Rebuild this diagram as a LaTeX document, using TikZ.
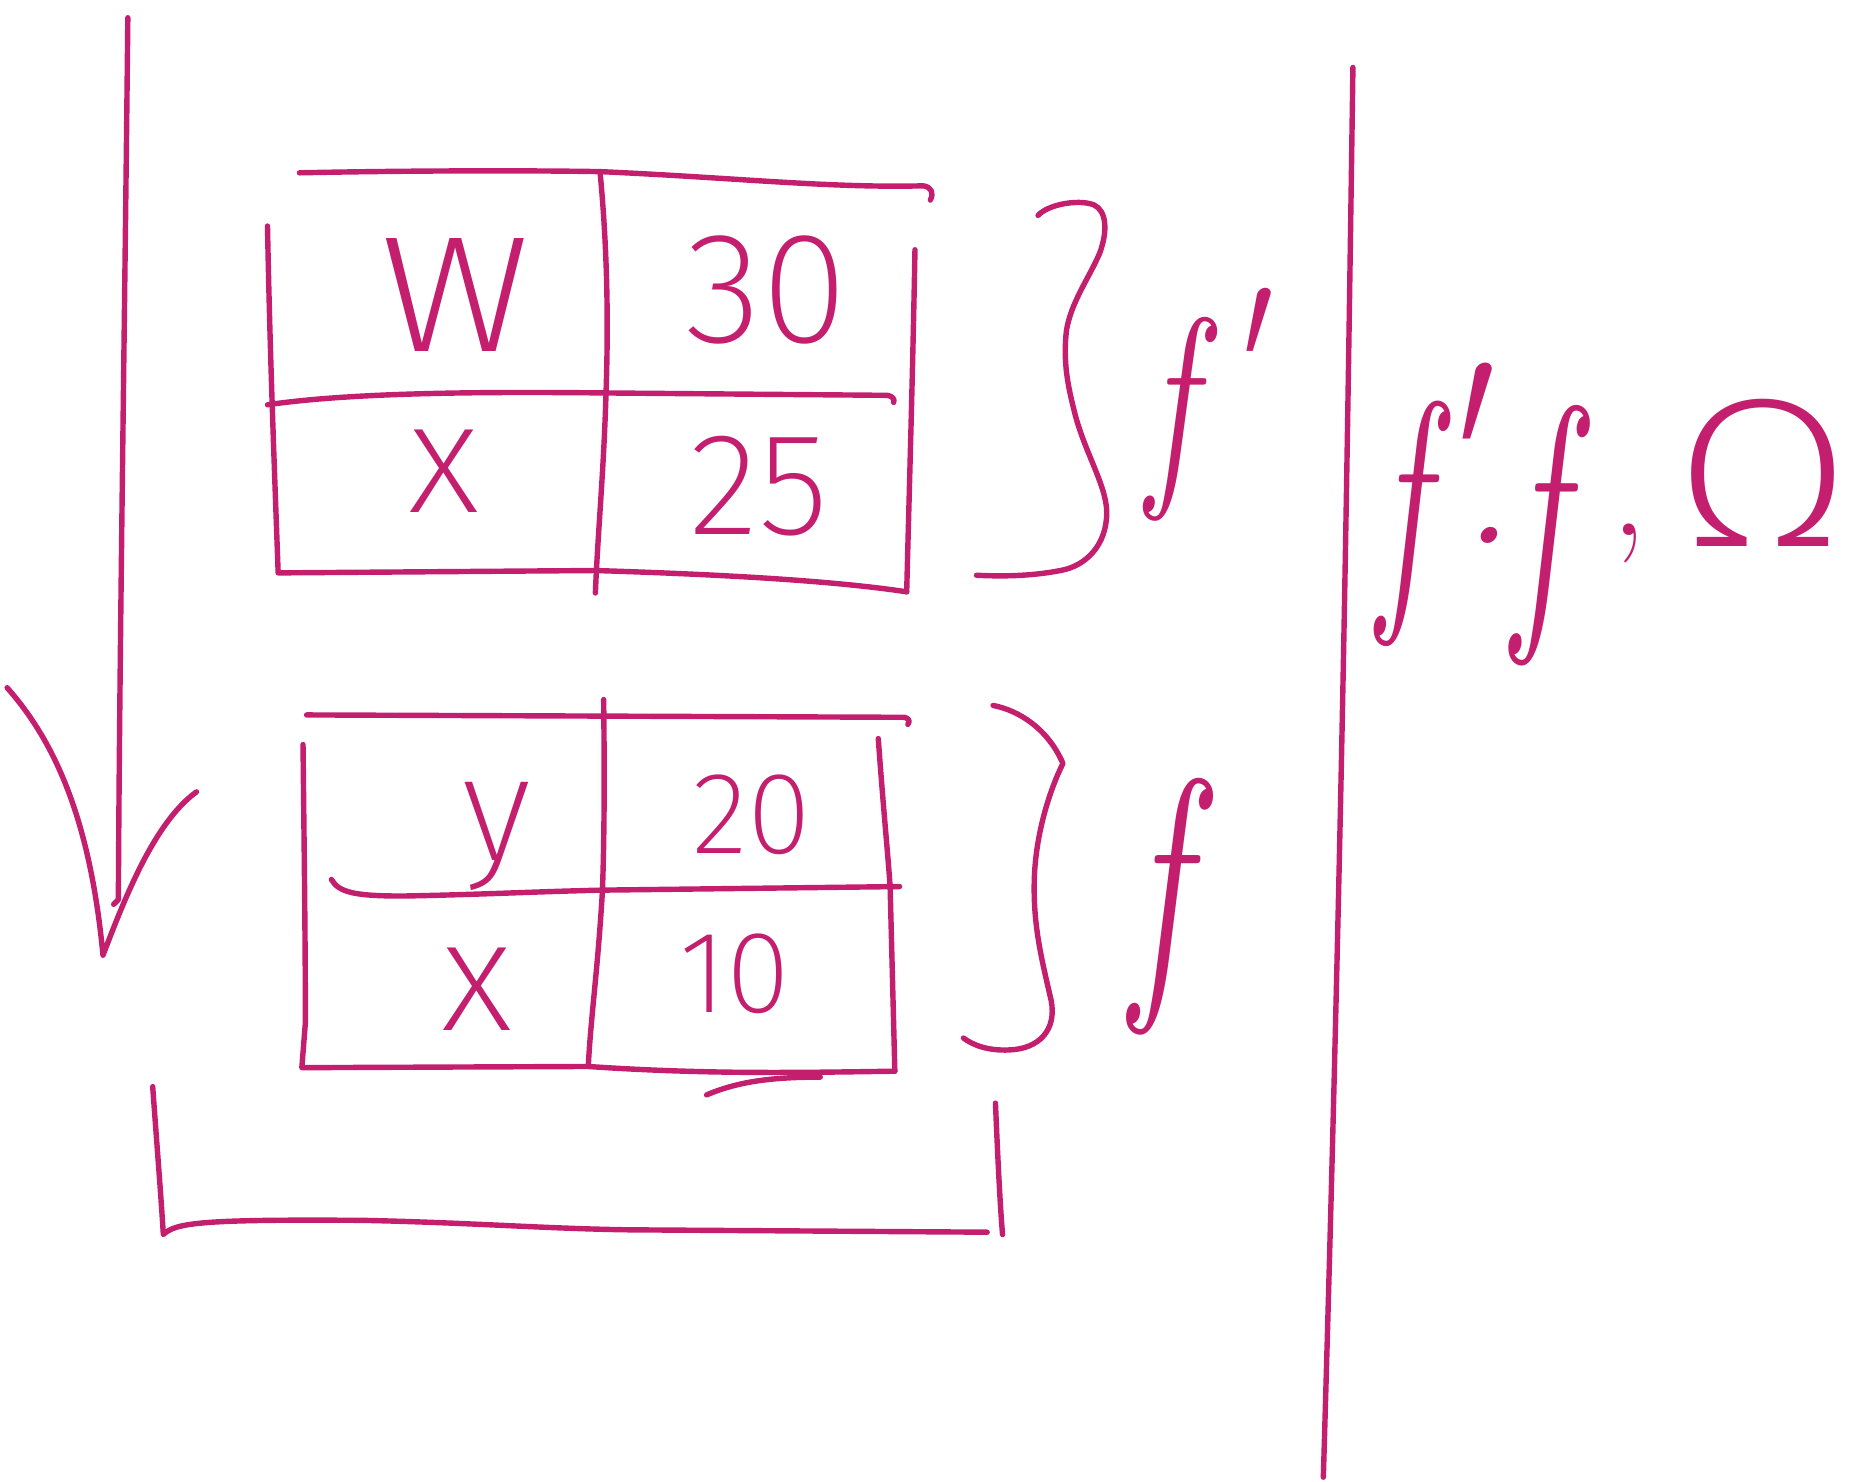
\documentclass[tikz,border=0pt]{standalone}
\usepackage{graphicx}
\usepackage{fontspec}
\newfontfamily\handfont{Fira Sans ExtraLight}
\definecolor{ink}{RGB}{196,30,110}
\newcommand\penpt[1]{\fontsize{#1}{#1}\selectfont}
% a slender italic f
\newcommand\slimf[1]{\scalebox{#1}[1]{f}}
\begin{document}
\begin{tikzpicture}[x=0.01cm,y=-0.01cm,
  pen/.style={draw=ink,line width=1.3pt,line cap=round,line join=round},
  cell/.style={text=ink,inner sep=0pt},
  sym/.style={text=ink,inner sep=0pt,anchor=base west}]
\useasboundingbox (0,0) rectangle (1568,1252);

% long downward stroke with its open arrow head
\draw[pen] (108,15) .. controls (105,300) and (101,550) .. (100,760) -- (96,764);
\draw[pen] (6,581) .. controls (45,625) and (76,690) .. (87,807)
  .. controls (105,760) and (130,695) .. (166,669);

% upper table
\draw[pen] (253,146) .. controls (350,144) and (450,144) .. (507,145)
  .. controls (620,150) and (700,159) .. (780,157) .. controls (787,158) and (789,163) .. (786,169);
\draw[pen] (226,191) .. controls (228,300) and (232,400) .. (235,484)
  -- (503,482) .. controls (600,485) and (700,490) .. (766,500);
\draw[pen] (773,211) .. controls (771,320) and (768,420) .. (766,500);
\draw[pen] (507,146) .. controls (515,230) and (513,300) .. (512,332)
  .. controls (510,400) and (505,450) .. (503,501);
\draw[pen] (226,342) .. controls (300,331) and (420,331) .. (513,332)
  -- (750,334) .. controls (754,335) and (756,337) .. (755,340);

\node[cell,font=\handfont\penpt{52}] (c11) at (385,249) {w};
\node[cell,font=\handfont\penpt{38}] (c12) at (648,245) {30};
\node[cell,font=\handfont\penpt{38}] (c21) at (375,398) {x};
\node[cell,font=\handfont\penpt{35}] (c22) at (641,411) {25};

% lower table
\draw[pen] (259,604) -- (764,606) .. controls (768,607) and (769,609) .. (767,612);
\draw[pen] (510,591) .. controls (511,680) and (510,720) .. (509,752)
  .. controls (505,820) and (499,860) .. (497,901);
\draw[pen] (256,629) .. controls (257,720) and (258,800) .. (258,864) -- (255,902)
  -- (497,901) .. controls (600,908) and (680,906) .. (756,905);
\draw[pen] (742,624) .. controls (746,680) and (750,720) .. (752,749) -- (756,905);
\draw[pen] (280,743) .. controls (286,754) and (300,757) .. (340,757)
  .. controls (400,756) and (460,753) .. (510,752) -- (760,749);
\draw[pen] (597,925) .. controls (625,913) and (655,910) .. (693,910);

\node[cell,font=\handfont\penpt{36}] (d11) at (420,707) {y};
\node[cell,font=\handfont\penpt{28}] (d12) at (635,688) {20};
\node[cell,font=\handfont\penpt{38}] (d21) at (403,836) {x};
\node[cell,font=\handfont\penpt{28}] (d22) at (621,823) {10};

% braces with their labels
\draw[pen] (877,182) .. controls (885,173) and (910,168) .. (924,173)
  .. controls (935,178) and (936,195) .. (929,214)
  .. controls (920,235) and (905,255) .. (901,279)
  .. controls (898,305) and (902,325) .. (907,345)
  .. controls (915,380) and (935,410) .. (935,433)
  .. controls (935,460) and (918,478) .. (896,482)
  .. controls (870,487) and (845,487) .. (825,486);
\node[sym,font=\itshape\penpt{54}] (lblA) at (969,402)
  {\slimf{0.7}\kern-0.01em\raisebox{0.13em}{\textquotesingle}};

\draw[pen] (839,596) .. controls (860,600) and (885,615) .. (898,645)
  .. controls (888,665) and (876,700) .. (874,738)
  .. controls (872,780) and (880,810) .. (888,845)
  .. controls (893,870) and (878,886) .. (853,887)
  .. controls (835,888) and (822,883) .. (814,877);
\node[sym,font=\itshape\penpt{68}] (lblB) at (955,826) {\slimf{0.65}};

% bracket under the tables
\draw[pen] (129,918) .. controls (132,960) and (136,1010) .. (138,1043)
  .. controls (148,1033) and (170,1030) .. (307,1031)
  .. controls (400,1033) and (460,1038) .. (532,1039) -- (834,1041);
\draw[pen] (841,932) .. controls (843,980) and (845,1020) .. (847,1043);

% dividing line on the right
\draw[pen] (1143,57) .. controls (1138,400) and (1134,700) .. (1118,1248);

% product on the right
\node[sym,font=\itshape\penpt{65}] (pa) at (1164,500)
  {\slimf{0.6}\kern-0.11em\raisebox{0.14em}{\textquotesingle}\kern-0.06em\raisebox{0.18em}{\penpt{40}.}};
\node[sym,font=\itshape\penpt{69}] (pc) at (1278,513) {\slimf{0.6}};
\node[sym,font=\penpt{34},anchor=base] (pd) at (1376,452) {,};
\node[sym,font=\handfont\penpt{51},anchor=base east] (pe) at (1566,462) {\scalebox{1.22}[1]{Ω}};
\end{tikzpicture}
\end{document}
